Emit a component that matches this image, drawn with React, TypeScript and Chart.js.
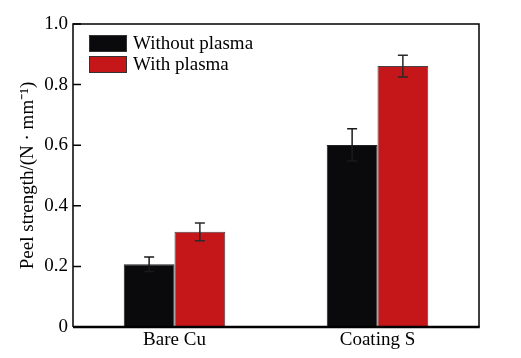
import React, { useEffect, useRef } from "react";
import { Chart, registerables } from "chart.js";

Chart.register(...registerables);

const categories = ["Bare Cu", "Coating S"];
const withoutPlasma = [0.207, 0.601];
const withPlasma = [0.314, 0.861];
const errWithout = [0.024, 0.053];
const errWith = [0.029, 0.036];
const seriesLabels = ["Without plasma", "With plasma"];
const yTicks = [0, 0.2, 0.4, 0.6, 0.8, 1.0];

const FONT = "'Liberation Serif', 'Times New Roman', serif";
const BLACK = "#0a0a0c";
const RED = "#c5161a";

const errorBarPlugin = {
  id: "errorBars",
  afterDatasetsDraw(chart: any) {
    const ctx = chart.ctx;
    const y = chart.scales.y;
    const errs = [errWithout, errWith];
    const lineColors = ["#1a1a1a", "#2a2a2a"];
    chart.data.datasets.forEach((ds: any, i: number) => {
      const meta = chart.getDatasetMeta(i);
      meta.data.forEach((bar: any, j: number) => {
        const v = ds.data[j];
        const e = errs[i][j];
        const yt = y.getPixelForValue(v + e);
        const yb = y.getPixelForValue(v - e);
        ctx.save();
        ctx.strokeStyle = lineColors[i];
        ctx.lineWidth = 1.5;
        ctx.beginPath();
        ctx.moveTo(bar.x, yt);
        ctx.lineTo(bar.x, yb);
        ctx.moveTo(bar.x - 5, yt);
        ctx.lineTo(bar.x + 5, yt);
        ctx.moveTo(bar.x - 5, yb);
        ctx.lineTo(bar.x + 5, yb);
        ctx.stroke();
        ctx.restore();
      });
    });
  },
};

const framePlugin = {
  id: "frame",
  afterDraw(chart: any) {
    const ctx = chart.ctx;
    const { left, right, top, bottom } = chart.chartArea;
    const y = chart.scales.y;
    ctx.save();
    ctx.strokeStyle = "#000";
    ctx.lineWidth = 1.5;
    ctx.beginPath();
    ctx.moveTo(left, bottom);
    ctx.lineTo(left, top);
    ctx.lineTo(right, top);
    ctx.lineTo(right, bottom);
    ctx.stroke();
    ctx.lineWidth = 2.5;
    ctx.beginPath();
    ctx.moveTo(left, bottom);
    ctx.lineTo(right + 0.75, bottom);
    ctx.stroke();
    // inside tick marks
    ctx.lineWidth = 1.5;
    ctx.beginPath();
    y.ticks.forEach((t: any) => {
      const py = y.getPixelForValue(t.value);
      ctx.moveTo(left, py);
      ctx.lineTo(left + 8, py);
    });
    ctx.stroke();
    // legend
    const colors = [BLACK, RED];
    const bx = left + 16;
    let by = top + 11;
    ctx.font = `19px ${FONT}`;
    ctx.textBaseline = "middle";
    ctx.textAlign = "left";
    chart.data.datasets.forEach((ds: any, i: number) => {
      ctx.fillStyle = colors[i];
      ctx.fillRect(bx, by, 38, 17);
      ctx.strokeStyle = "#333";
      ctx.lineWidth = 1;
      ctx.strokeRect(bx + 0.5, by + 0.5, 37, 16);
      ctx.fillStyle = "#000";
      ctx.fillText(ds.label, bx + 44, by + 9);
      by += 21;
    });
    ctx.restore();
  },
};

export default function App() {
  const ref = useRef<HTMLCanvasElement>(null);
  useEffect(() => {
    if (!ref.current) return;
    const chart = new Chart(ref.current, {
      type: "bar",
      data: {
        labels: categories,
        datasets: [
          {
            label: seriesLabels[0],
            data: withoutPlasma,
            backgroundColor: BLACK,
            borderColor: "#222",
            borderWidth: 1,
          },
          {
            label: seriesLabels[1],
            data: withPlasma,
            backgroundColor: RED,
            borderColor: "#444",
            borderWidth: 1,
          },
        ],
      },
      options: {
        responsive: false,
        animation: false,
        layout: { padding: { top: 24, right: 42, left: 0, bottom: 0 } },
        datasets: { bar: { categoryPercentage: 0.5, barPercentage: 1.0 } },
        plugins: {
          legend: { display: false },
          tooltip: { enabled: false },
        },
        scales: {
          x: {
            type: "category",
            offset: true,
            grid: { display: false, drawTicks: false },
            border: { display: false },
            ticks: {
              color: "#000",
              font: { family: FONT, size: 19 },
              padding: 2,
            },
            afterFit: (s: any) => {
              s.height = 31;
            },
          },
          y: {
            min: 0,
            max: 1.0,
            afterBuildTicks: (s: any) => {
              s.ticks = yTicks.map((v) => ({ value: v }));
            },
            grid: { display: false, drawTicks: false },
            border: { display: false },
            ticks: {
              color: "#000",
              font: { family: FONT, size: 19 },
              padding: 5,
              callback: (v: any) => (Number(v) === 0 ? "0" : Number(v).toFixed(1)),
            },
            title: {
              display: true,
              text: "Peel strength/(N · mm⁻¹)",
              color: "#000",
              font: { family: FONT, size: 19 },
              padding: { top: 17, bottom: 4 },
            },
            afterFit: (s: any) => {
              s.width = 73;
            },
          },
        },
      },
      plugins: [errorBarPlugin, framePlugin],
    });
    return () => chart.destroy();
  }, []);
  return (
    <div style={{ position: "fixed", left: 0, top: 0, width: 521, height: 358, background: "#fff" }}>
      <canvas ref={ref} width={521} height={358} />
    </div>
  );
}
